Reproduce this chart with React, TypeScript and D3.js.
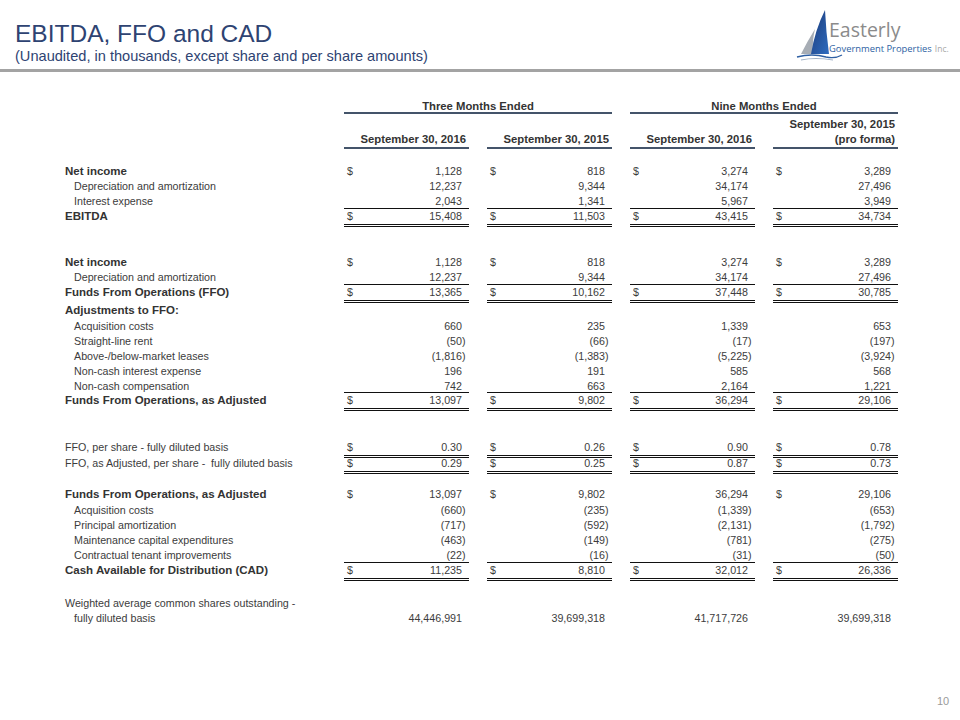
import React from "react";
import * as d3 from "d3";

// ---------- data ----------
const titleText = "EBITDA, FFO and CAD";
const subtitleText = "(Unaudited, in thousands, except share and per share amounts)";
const groupHeaders = ["Three Months Ended", "Nine Months Ended"];
const columnHeaders = ["September 30, 2016", "September 30, 2015", "September 30, 2016", "September 30, 2015"];
const columnSubHeaders = ["", "", "", "(pro forma)"];

const rowLabels = [
  "Net income",
  "Depreciation and amortization",
  "Interest expense",
  "EBITDA",
  "Net income",
  "Depreciation and amortization",
  "Funds From Operations (FFO)",
  "Adjustments to FFO:",
  "Acquisition costs",
  "Straight-line rent",
  "Above-/below-market leases",
  "Non-cash interest expense",
  "Non-cash compensation",
  "Funds From Operations, as Adjusted",
  "FFO, per share - fully diluted basis",
  "FFO, as Adjusted, per share -  fully diluted basis",
  "Funds From Operations, as Adjusted",
  "Acquisition costs",
  "Principal amortization",
  "Maintenance capital expenditures",
  "Contractual tenant improvements",
  "Cash Available for Distribution (CAD)",
  "Weighted average common shares outstanding -",
  "fully diluted basis",
];

const threeMonths2016 = [1128, 12237, 2043, 15408, 1128, 12237, 13365, null, 660, -50, -1816, 196, 742, 13097, 0.3, 0.29, 13097, -660, -717, -463, -22, 11235, null, 44446991];
const threeMonths2015 = [818, 9344, 1341, 11503, 818, 9344, 10162, null, 235, -66, -1383, 191, 663, 9802, 0.26, 0.25, 9802, -235, -592, -149, -16, 8810, null, 39699318];
const nineMonths2016 = [3274, 34174, 5967, 43415, 3274, 34174, 37448, null, 1339, -17, -5225, 585, 2164, 36294, 0.9, 0.87, 36294, -1339, -2131, -781, -31, 32012, null, 41717726];
const nineMonths2015 = [3289, 27496, 3949, 34734, 3289, 27496, 30785, null, 653, -197, -3924, 568, 1221, 29106, 0.78, 0.73, 29106, -653, -1792, -275, -50, 26336, null, 39699318];

const columns = [threeMonths2016, threeMonths2015, nineMonths2016, nineMonths2015];

// ---------- layout / style (not data) ----------
// B = bold, I = indented, P = plain
const rowKind = ["B", "I", "I", "B", "B", "I", "B", "B", "I", "I", "I", "I", "I", "B", "P", "P", "B", "I", "I", "I", "I", "B", "P", "I"];
// dollar sign columns: A = all, S = all but third column, N = none
const rowDollar = ["A", "N", "N", "A", "S", "N", "A", "N", "N", "N", "N", "N", "N", "A", "A", "A", "S", "N", "N", "N", "N", "A", "N", "N"];
// rules: T = line above + double below, D = double below, - = none
const rowRule = ["-", "-", "-", "T", "-", "-", "T", "-", "-", "-", "-", "-", "-", "T", "D", "D", "-", "-", "-", "-", "-", "T", "-", "-"];
// format: i = integer, p = per share
const rowFmt = ["i", "i", "i", "i", "i", "i", "i", "i", "i", "i", "i", "i", "i", "i", "p", "p", "i", "i", "i", "i", "i", "i", "i", "i"];
const rowGap = [0, 15, 15, 15, 46, 15, 15, 18, 16, 15, 15, 15, 15, 14, 47, 16, 31, 16, 15, 15, 15, 15, 33, 15];
const firstRowY = 171;

const FONT = "'Liberation Sans', Arial, Helvetica, sans-serif";
const TEXT = "#3c3c3c";
const NAVY = "#2e4372";
const HEAD_RULE = "#44546a";

const fmtInt = d3.format(",");
const fmtPS = d3.format(".2f");

function fmtValue(v: number, kind: string) {
  const f = kind === "p" ? fmtPS : fmtInt;
  return v < 0 ? `(${f(Math.abs(v))})` : f(v);
}

export default function App() {
  const x = d3
    .scaleBand<number>()
    .domain([0, 1, 2, 3])
    .range([344, 898])
    .paddingInner(0.126)
    .paddingOuter(0);
  const bw = x.bandwidth();

  const rowY = d3.cumsum(rowGap).map((g) => firstRowY + g);

  const labelX = 65;
  const indentX = 74;

  return (
    <svg
      width={960}
      height={720}
      style={{ position: "absolute", left: 0, top: 0, background: "#fff" }}
      fontFamily={FONT}
    >
      <rect x={0} y={0} width={960} height={720} fill="#ffffff" />
      {/* Title */}
      <text x={15} y={42} fontSize={24.5} fill={NAVY}>
        {titleText}
      </text>
      <text x={15} y={61} fontSize={14.6} fill={NAVY}>
        {subtitleText}
      </text>
      <rect x={0} y={69} width={960} height={3} fill="#a3a3a3" />

      {/* Logo */}
      <defs>
        <linearGradient id="sailGrad" x1="0" y1="0" x2="1" y2="1">
          <stop offset="0%" stopColor="#1c3a78" />
          <stop offset="100%" stopColor="#2f6cc0" />
        </linearGradient>
      </defs>
      <g>
        <path d="M815,29 Q807,42 801,54 L813,54 Q812,41 815,29 Z" fill="#a7adb5" />
        <path d="M825,10 Q815,30 811,54 L829,54 Q826,32 825,10 Z" fill="url(#sailGrad)" />
        <path d="M797,57 Q812,53 826,57 Q835,59 842,55" fill="none" stroke="#2e5fa3" strokeWidth={1.4} />
        <path d="M801,60 Q815,57 833,60" fill="none" stroke="#9fb0c6" strokeWidth={1.2} />
        <text x={829} y={37} fontSize={19.5} fill="#8b8b8b" fontFamily="'Open Sans', 'Liberation Sans', sans-serif">
          Easterly
        </text>
        <text x={829} y={52} fontSize={9.4} fill="#2e5fa3" fontFamily="'Open Sans', 'Liberation Sans', sans-serif">
          Government Properties
          <tspan dx={3} fontSize={8.5} fill="#a8a8a8">
            Inc.
          </tspan>
        </text>
      </g>

      {/* Group headers */}
      {groupHeaders.map((g, i) => {
        const x0 = x(i * 2)!;
        const x1 = x(i * 2 + 1)! + bw;
        return (
          <g key={"g" + i}>
            <text x={(x0 + x1) / 2} y={110} textAnchor="middle" fontSize={11.3} fontWeight="bold" fill="#333">
              {g}
            </text>
            <rect x={x0} y={112} width={x1 - x0} height={2} fill={HEAD_RULE} />
          </g>
        );
      })}

      {/* Column headers */}
      {columnHeaders.map((h, i) => {
        const x0 = x(i)!;
        const sub = columnSubHeaders[i];
        return (
          <g key={"h" + i}>
            {sub ? (
              <>
                <text x={x0 + bw - 3} y={128} textAnchor="end" fontSize={11.3} fontWeight="bold" fill="#333">
                  {h}
                </text>
                <text x={x0 + bw - 3} y={143} textAnchor="end" fontSize={11.3} fontWeight="bold" fill="#333">
                  {sub}
                </text>
              </>
            ) : (
              <text x={x0 + bw - 3} y={143} textAnchor="end" fontSize={11.3} fontWeight="bold" fill="#333">
                {h}
              </text>
            )}
            <rect x={x0} y={147} width={bw} height={2} fill={HEAD_RULE} />
          </g>
        );
      })}

      {/* Rows */}
      {rowLabels.map((label, r) => {
        const y = rowY[r];
        const kind = rowKind[r];
        const bold = kind === "B";
        const lx = kind === "I" ? indentX : labelX;
        return (
          <g key={"r" + r}>
            <text
              x={lx}
              y={y + 4}
              fontSize={bold ? 11.5 : 10.7}
              fontWeight={bold ? "bold" : "normal"}
              fill={bold ? "#333" : TEXT}
              style={{ whiteSpace: "pre" }}
            >
              {label}
            </text>
            {columns.map((col, c) => {
              const v = col[r];
              if (v === null || v === undefined) return null;
              const x0 = x(c)!;
              const right = x0 + bw - 7;
              const showDollar = rowDollar[r] === "A" || (rowDollar[r] === "S" && c !== 2);
              const rule = rowRule[r];
              const s = fmtValue(v, rowFmt[r]);
              return (
                <g key={"c" + c}>
                  {showDollar && (
                    <text x={x0 + 3} y={y + 4} fontSize={10.7} fill={TEXT}>
                      $
                    </text>
                  )}
                  <text x={v < 0 ? right + 3.6 : right} y={y + 4} fontSize={10.7} fill={TEXT} textAnchor="end">
                    {s}
                  </text>
                  {rule === "T" && (
                    <rect x={x0} y={Math.round(y - 8)} width={bw} height={1} fill="#111" />
                  )}
                  {(rule === "T" || rule === "D") && (
                    <>
                      <rect x={x0} y={Math.round(y + 8)} width={bw} height={1} fill="#111" />
                      <rect x={x0} y={Math.round(y + 10)} width={bw} height={1} fill="#111" />
                    </>
                  )}
                </g>
              );
            })}
          </g>
        );
      })}

      {/* Page number */}
      <text x={943} y={705} textAnchor="middle" fontSize={11} fill="#9a9a9a">
        10
      </text>
    </svg>
  );
}
